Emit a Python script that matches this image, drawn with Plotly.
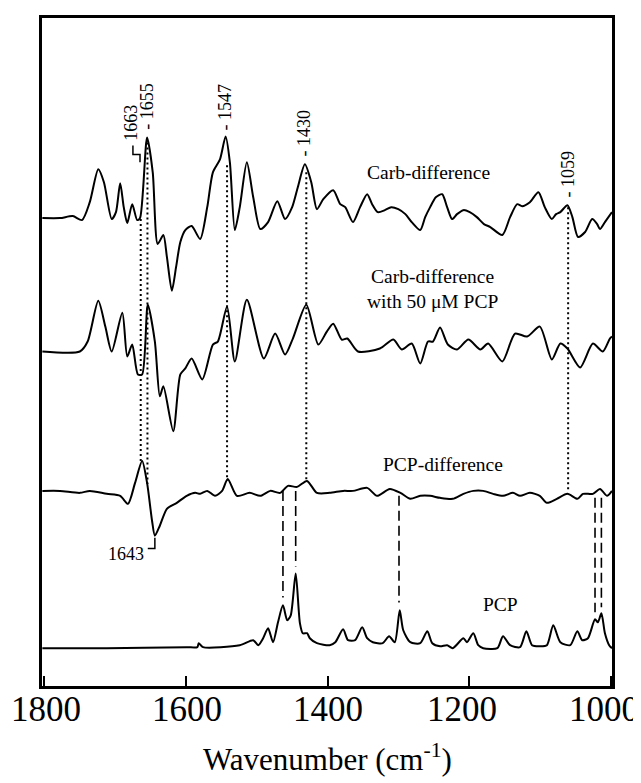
import plotly.graph_objects as go

# ---------------- data ----------------
# Carb-difference
carb_wn = [1803, 1778, 1760, 1747, 1736, 1724, 1716, 1705, 1699, 1693, 1688, 1683, 1676, 1669, 1665,
           1655, 1647, 1640, 1632, 1627, 1620, 1614, 1608, 1601, 1592, 1580, 1570, 1562, 1552, 1544,
           1538, 1531, 1524, 1514, 1505, 1495, 1484, 1471, 1460, 1450, 1442, 1432, 1423, 1415, 1406,
           1392, 1382, 1375, 1364, 1354, 1344, 1337, 1329, 1319, 1310, 1300, 1290, 1281, 1269, 1262,
           1255, 1247, 1238, 1231, 1224, 1217, 1208, 1199, 1189, 1179, 1170, 1153, 1142, 1132, 1125,
           1114, 1102, 1093, 1083, 1077, 1071, 1061, 1054, 1046, 1036, 1026, 1019, 1015, 1008, 998]
carb_int = [0, 0, 2, -2, 16, 49, 36, -1, 6, 35, 11, -5, 14, -2, 0,
            81, 46, -26, -17, -39, -73, -49, -24, -12, -8, -21, 11, 46, 59, 82,
            56, -12, 11, 56, 21, -11, -4, 17, -1, 11, 31, 54, 36, 9, 19,
            28, 14, 11, -4, 11, 24, 14, 6, 8, 11, 9, 4, -4, -12, 1,
            11, 21, 24, 11, -1, 4, 8, 6, 1, -6, -9, -17, 1, 14, 12,
            16, 26, 11, -1, 4, 6, 13, 1, -19, -14, -1, -6, -11, -4, 6]

# Carb-difference with 50 uM PCP
carbpcp_wn = [1803, 1750, 1739, 1724, 1714, 1705, 1690, 1683, 1676, 1668, 1662, 1654, 1644, 1637, 1632,
              1618, 1608, 1601, 1592, 1577, 1562, 1555, 1542, 1531, 1514, 1490, 1474, 1460, 1449, 1430,
              1413, 1401, 1392, 1380, 1372, 1357, 1326, 1307, 1295, 1281, 1269, 1258, 1251, 1241, 1230,
              1217, 1201, 1184, 1173, 1153, 1135, 1118, 1100, 1083, 1071, 1061, 1043, 1025, 1011, 1001, 998]
carbpcp_int = [0, 0, 10, 51, 25, 0, 39, -5, 7, -23, -23, 47, 10, -45, -35,
               -80, -23, -17, -7, -28, 7, 10, 45, -10, 52, -7, 18, -3, 13, 47,
               7, 20, 28, 12, 13, 0, 3, 12, 2, 8, -12, 10, 10, 24, 7,
               2, 12, 2, 8, -10, 18, 15, 25, -8, 8, 3, -16, 8, 0, 13, 15]

# PCP-difference
pcpdiff_wn = [1803, 1778, 1750, 1736, 1712, 1693, 1682, 1672, 1662, 1655, 1648, 1644, 1637, 1627, 1613,
              1599, 1587, 1580, 1570, 1559, 1549, 1541, 1528, 1510, 1495, 1481, 1467, 1456, 1443, 1429,
              1415, 1397, 1378, 1364, 1344, 1330, 1312, 1297, 1283, 1269, 1255, 1241, 1223, 1208, 1194,
              1180, 1166, 1152, 1138, 1128, 1114, 1100, 1090, 1076, 1061, 1047, 1039, 1025, 1015, 1005, 998]
pcpdiff_int = [0, 0, -2, 0, -3, -5, -13, 8, 30, 8, -30, -45, -35, -18, -12,
               -5, -2, -3, 0, -5, 0, 12, -5, -2, -5, 0, -2, 5, 4, 10,
               -2, -2, 0, 0, 3, -5, 2, -2, -8, -5, -5, -7, -8, -3, 0,
               0, -3, -5, -2, -5, -2, -5, -12, -8, -3, -8, -3, -3, 2, -5, 0]

# PCP
pcp_wn = [1803, 1712, 1599, 1584, 1582, 1576, 1524, 1505, 1498, 1491, 1484, 1477, 1470, 1463, 1457,
          1452, 1445, 1439, 1435, 1429, 1425, 1415, 1397, 1389, 1378, 1371, 1361, 1351, 1344, 1336,
          1322, 1313, 1305, 1298, 1293, 1283, 1269, 1259, 1252, 1241, 1231, 1223, 1208, 1203, 1194,
          1187, 1180, 1160, 1152, 1142, 1128, 1119, 1111, 1100, 1090, 1081, 1071, 1057, 1047, 1040,
          1032, 1022, 1018, 1013, 1008, 1002, 998]
pcp_int = [0, 0, 1, 1, 5, 1, 3, 8, 3, 10, 20, 6, 26, 43, 28,
           33, 75, 25, 15, 15, 10, 5, 3, 6, 19, 8, 8, 21, 10, 6,
           5, 12, 6, 38, 18, 6, 5, 17, 5, 2, 3, 0, 10, 6, 15,
           3, 0, 0, 12, 3, 1, 17, 3, 2, 3, 23, 6, 3, 17, 8,
           10, 29, 26, 35, 15, 3, 0]

# vertical offsets of the stacked spectra
offsets = {"carb": 470, "carbpcp": 336, "pcpdiff": 196, "pcp": 38}

# marked bands
dotted_bands = [1664, 1654.5, 1542, 1430, 1060]
dotted_top = [469, 546, 523, 516, 481]
dotted_bottom = [224, 203, 206, 206, 196]
dashed_bands = [1463, 1445, 1299, 1022, 1013]
dashed_top = [196, 196, 191, 189, 189]
dashed_bottom = [89, 120, 84, 74, 79]

tick_vals = [1800, 1600, 1400, 1200, 1000]
tick_text = ["1800", "1600", "1400", "1200", "1000"]
tick_label_nudge = [2, 1, 0, -7, -7]   # pixel nudges of the printed labels

# ---------------- figure ----------------
FONT = "Liberation Serif"
fig = go.Figure()

series = [(carb_wn, carb_int, offsets["carb"]),
          (carbpcp_wn, carbpcp_int, offsets["carbpcp"]),
          (pcpdiff_wn, pcpdiff_int, offsets["pcpdiff"]),
          (pcp_wn, pcp_int, offsets["pcp"])]
for wn, inten, off in series:
    fig.add_trace(go.Scatter(
        x=wn, y=[v + off for v in inten], mode="lines",
        line=dict(color="black", width=2, shape="spline", smoothing=0.7),
        showlegend=False, hoverinfo="skip"))

shapes = []
for x, y0, y1 in zip(dotted_bands, dotted_top, dotted_bottom):
    shapes.append(dict(type="line", xref="x", yref="y", x0=x, x1=x, y0=y0, y1=y1,
                       line=dict(color="black", width=2, dash="2px,3px")))
for x, y0, y1 in zip(dashed_bands, dashed_top, dashed_bottom):
    shapes.append(dict(type="line", xref="x", yref="y", x0=x, x1=x, y0=y0, y1=y1,
                       line=dict(color="black", width=1.6, dash="10px,5px")))
# leader brackets for 1663 and 1643
shapes.append(dict(type="path", xref="x", yref="y",
                   path="M 1665,526 L 1665,534 L 1675,534 L 1675,543",
                   line=dict(color="black", width=1.5)))
shapes.append(dict(type="path", xref="x", yref="y",
                   path="M 1644,149 L 1644,138 L 1654,138",
                   line=dict(color="black", width=1.5)))

annotations = []
def ann(text, x, y, size, angle=0, xanchor="center", yanchor="middle"):
    annotations.append(dict(text=text, x=x, y=y, xref="x", yref="y", showarrow=False,
                            textangle=angle, xanchor=xanchor, yanchor=yanchor,
                            font=dict(family=FONT, size=size, color="black")))

ann("- 1655", 1655, 582, 18, -90)
ann("1663", 1679, 566, 18, -90)
ann("- 1547", 1545, 582, 18, -90)
ann("- 1430", 1432, 556, 18, -90)
ann("- 1059", 1060, 514, 18, -90)
ann("1643", 1656.5, 133, 18, 0, xanchor="right")
ann("Carb-difference", 1257, 516, 19.5)
ann("Carb-difference<br>with 50 \u03bcM PCP", 1252, 399, 19.5)
ann("PCP-difference", 1237, 223, 19.5)
ann("PCP", 1156, 82, 19.5)

# x tick labels (placed on the x scale, below the frame)
for v, t, dx in zip(tick_vals, tick_text, tick_label_nudge):
    annotations.append(dict(text=t, x=v, xref="x", y=-0.0358, yref="paper",
                            xshift=dx, showarrow=False, xanchor="center", yanchor="middle",
                            font=dict(family=FONT, size=35, color="black")))
# x axis title
annotations.append(dict(text="Wavenumber (cm<sup>-1</sup>)", x=0.5, xref="paper",
                        y=-0.1073, yref="paper", showarrow=False,
                        xanchor="center", yanchor="middle",
                        font=dict(family=FONT, size=31, color="black")))

# the page body adds an 8 px margin, so the figure is 8 px smaller than the window
fig.update_layout(
    width=633, height=775,
    margin=dict(l=34, r=29, t=7, b=97),
    paper_bgcolor="white", plot_bgcolor="white",
    shapes=shapes, annotations=annotations,
    xaxis=dict(range=[1803.5, 998], tickvals=tick_vals, ticks="inside", ticklen=10,
               tickwidth=2, tickcolor="black", showgrid=False, zeroline=False,
               showticklabels=False,
               showline=True, mirror=True, linecolor="black", linewidth=3),
    yaxis=dict(range=[0, 671], showticklabels=False, ticks="", showgrid=False,
               zeroline=False, showline=True, mirror=True, linecolor="black", linewidth=3),
)

fig.write_html("out.html")
